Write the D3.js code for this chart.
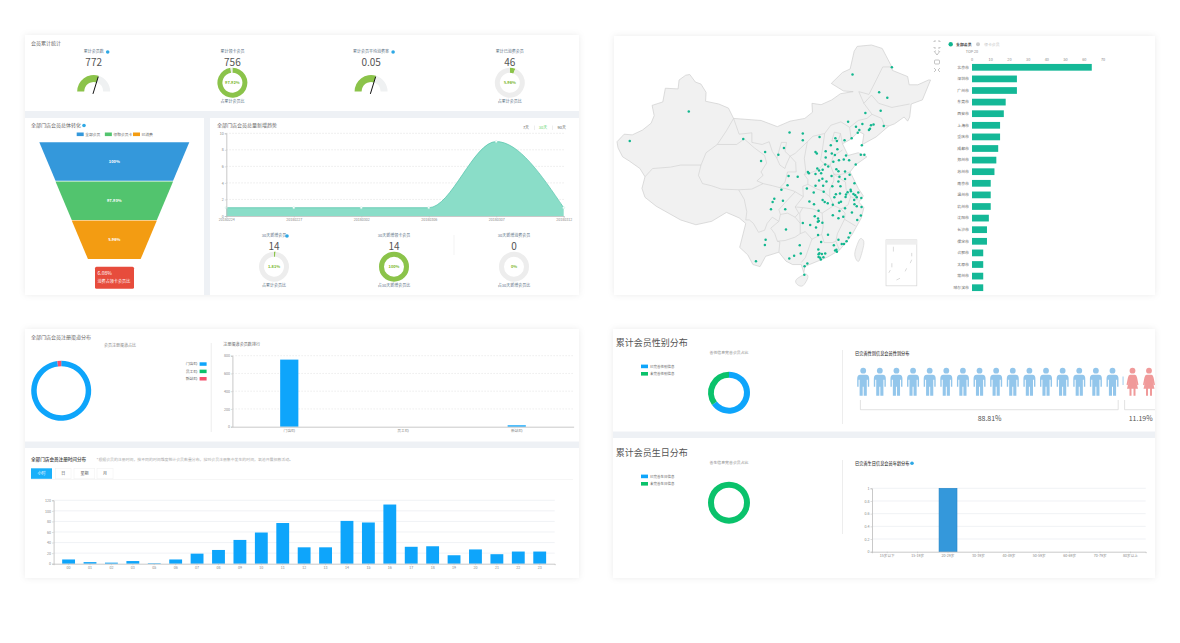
<!DOCTYPE html>
<html>
<head>
<meta charset="utf-8">
<title>会员分析</title>
<script src="https://cdnjs.cloudflare.com/ajax/libs/d3/7.8.5/d3.min.js"></script>
<style>
  html, body { margin: 0; padding: 0; background: #fff; }
  svg { display: block; }
  text { font-family: "Noto Sans CJK SC", "Noto Sans", sans-serif; }
</style>
</head>
<body>
<svg id="chart" width="1180" height="643"></svg>
<script>
// funnel
var funnelStages = ["全部会员", "领取会员卡", "已消费"];
var funnelRates = ["100%", "97.93%", "5.96%"];

// total member growth line
var growthDates = ["20180224", "20180227", "20180302", "20180306", "20180307", "20180312"];
var growthValues = [1, 1, 1, 1, 9, 1];

// top 20 cities
var cityNames = ["北京市", "深圳市", "广州市", "东莞市", "西安市", "上海市", "重庆市", "成都市", "郑州市", "苏州市",
  "南京市", "温州市", "杭州市", "沈阳市", "长沙市", "保定市", "合肥市", "太原市", "常州市", "哈尔滨市"];
var cityValues = [64, 24, 24, 18, 17, 15, 15, 14, 13, 12, 10, 10, 10, 9, 8, 8, 6, 6, 6, 6];

// register channels
var channelNames = ["门店码", "员工码", "新站码"];
var channelValues = [756, 0, 16];

// register hour
var hourLabels = ["00", "01", "02", "03", "05", "06", "07", "08", "09", "10", "11", "12", "13", "14", "15", "16", "17", "18", "19", "20", "21", "22", "23"];
var hourValues = [8, 3, 2, 5, 1, 8, 19, 26, 45, 59, 77, 31, 31, 81, 78, 112, 32, 33, 16, 27, 18, 23, 23];

// gender and birthday
var genderInfoShare = [65, 35];
var genderPeople = [16, 2];
var genderRates = ["88.81%", "11.19%"];
var ageLabels = ["15岁以下", "15-19岁", "20-29岁", "30-39岁", "40-49岁", "50-59岁", "60-69岁", "70-79岁", "80岁以上"];
var ageValues = [0, 0, 1, 0, 0, 0, 0, 0, 0];
var birthdayInfoShare = [0, 100];

// map, lon/lat
var chinaOutline = [[73.5,39.4],[74.9,40.5],[76.5,40.4],[78.5,41.1],[80.2,42.1],[80.8,43.2],[80.4,44.7],[82.5,45.2],[83,47.2],[85.5,47.1],[85.7,48.4],[87,49.1],[87.8,49.2],[88.9,48.1],[90,47.8],[91,46.6],[90.9,45.3],[93.5,44.9],[95.4,44.3],[96.4,42.8],[100,42.6],[101.8,42.5],[105,41.6],[107.5,42.4],[110.4,42.8],[111.9,43.7],[111.8,45],[113.6,44.8],[115.7,45.5],[117.4,46.4],[119.9,46.7],[118,46.8],[115.6,47.9],[117.8,49.5],[119.3,50],[120.1,52.6],[120.7,53.3],[123.5,53.5],[125.6,53],[127.5,50.3],[127.6,49.8],[130.6,48.9],[130.9,47.7],[132.6,47.7],[134.7,48.4],[135.1,48.4],[133.5,45.5],[131.3,44.9],[131,43],[130.6,42.4],[129.9,43],[128,42],[126.9,41.7],[124.4,40.1],[121.7,39],[122,40.5],[121,40.9],[119.5,39.8],[117.8,39.1],[118.9,37.4],[120.9,37.8],[122.6,37.2],[120.3,36],[119.3,35],[120.9,32.6],[121.9,31.5],[121,30.6],[122,29.8],[121.5,28.3],[119.7,25.9],[119,25.2],[117.2,23.6],[114.9,22.6],[113.6,22.2],[111.3,21.5],[110.4,21.2],[110.2,20.3],[109.7,21.5],[108,21.5],[106.7,22],[105.3,23.3],[102.7,22.7],[101.6,21.2],[100.2,21.5],[99.2,22.9],[97.6,24],[98.8,27.5],[97.5,28.3],[95,29.1],[92.1,27.8],[89,27.3],[86,28],[81.2,30],[79,31.3],[78.4,32.6],[79,34.3],[78,35.5],[75.9,36.6],[74.6,37.2],[73.7,38.5]];
var chinaIslands = [
  [[121.5,25.3],[122,24.5],[121,22],[120.2,23],[120.9,24.8]],
  [[108.7,19.3],[110.5,20.1],[111,19.6],[110,18.4],[108.9,18.6]]
];
var provinceBorders = [
  [[79,34.3],[80.5,35.5],[84,35.7],[86,36],[90,36],[91,37.8],[93.2,39],[95,41],[96.4,42.8]],
  [[90,36],[89.5,34.5],[90.3,33.3],[92,33],[94,32.5],[97.4,32.4],[98.5,31],[99,29.2],[98.8,28]],
  [[93.2,39],[97,39],[98.5,39.8],[100.5,38.5],[102.5,37.4],[102.9,36.3],[101.8,35],[102.2,34.5],[101,33.7],[102.2,33.3]],
  [[97.4,32.4],[100,32.5],[102.2,33.3],[104,33],[105.5,32.7],[106.5,33.5],[107,35],[108.7,35],[108.6,36.4],[107.5,37.3]],
  [[96.4,42.8],[97.5,40.5],[100,40.7],[100,39.3],[102,39],[103.4,39.4],[104,38],[104.9,37]],
  [[104.9,37],[105.8,39.3],[106.8,39.3],[106.5,38],[107.5,37.3],[106.7,36],[106.5,35.5],[105.5,36],[104.9,37]],
  [[107.5,37.3],[108.5,37.7],[110.9,39.4],[110.3,37],[110.6,35],[110.3,34.6],[111,33.9],[111,33.2],[110,32.9],[110.1,31.4]],
  [[105.5,32.7],[106.5,32.6],[108.3,32.2],[110.1,31.4]],
  [[105.6,28.8],[105.3,29.5],[106.5,30.5],[108.5,32.1]],
  [[110.1,31.4],[108.5,29.9],[109.2,29],[108.5,28.4],[107,29],[105.6,28.8]],
  [[98.8,28],[99.5,28],[100.3,27.5],[101.3,26.2],[102.5,26.5],[103,27.5],[104,28.4],[105.3,27.8],[105.6,28.8]],
  [[105.3,27.8],[103.7,26.8],[104.5,26],[105,24.9],[106.5,25],[108.5,25.5],[109.5,26],[109.5,27.5],[108.5,28.4]],
  [[105.3,23.3],[105.5,24.8],[105,24.9]],
  [[109.5,26],[110.5,26.3],[111.8,25.2],[111.5,24.6],[110.5,22.5],[109.7,21.8]],
  [[109.5,27.5],[109.4,29],[110,29.8],[112,29.6],[113.8,29],[114,27],[113.7,25.9],[111.8,25.2]],
  [[108.5,29.9],[110,29.8]],
  [[111,33.2],[112.8,32.5],[114,32.2],[115.3,31.4],[116.1,30.1],[113.8,29]],
  [[110.3,34.6],[112.8,35.2],[114.2,36.2],[115.4,36],[116.1,34.7],[116.1,33.7],[115.3,32.5],[115.3,31.4]],
  [[110.9,39.4],[112,40.2],[114.3,40.6],[113.9,38.5],[113.5,36.7],[114.2,36.2]],
  [[114.3,40.6],[115.5,41.8],[117.5,42.3],[119.2,41.5],[120.9,42.5],[122.6,42.8],[123.6,43.4],[122,45],[121,46.7],[123,46.3],[124.5,48.5],[125.7,50.3],[127.5,50.3]],
  [[122,45],[123.5,46.2],[124.9,45],[127.5,44.4],[131,44.9]],
  [[123.6,43.4],[125.5,42.8],[126,41.8],[126.9,41.7]],
  [[119.2,41.5],[119.5,39.8]],
  [[115.4,36],[116,37.3],[117.8,38.2]],
  [[115.7,39.5],[116.2,40.8],[117.4,40.6],[117,39.6],[115.7,39.5]],
  [[117.4,40.6],[117.8,39.1]],
  [[116.1,34.7],[117.2,34.6],[118.5,34.8],[119.3,35]],
  [[116.1,34.7],[117,34.2],[118.4,33.5],[118.5,32.5],[119.4,31.4],[120.9,30.9]],
  [[116.1,30.1],[117.5,29.6],[118.9,30.2],[119.4,31.4]],
  [[117.5,29.6],[118.3,29],[118.2,28.1],[120.4,27.1]],
  [[118.2,28.1],[116.8,26],[116.5,24.9],[115.8,24.7],[114.2,24.7],[113.7,25.9]],
  [[116.5,24.9],[117.2,23.6]]
];
var nineDash = [[127.8,24.1,127.8,23.4],[131.4,23.2,131.4,22.7],[127.5,21.7,127.5,21.1],[131.4,22.2,131.1,21.7],[130.4,20.95,130.1,20.5],[128.4,19.25,129.1,19.5],[126.9,20.3,127.2,20.7]];
var memberCities = [[119.77,49.2],[127.5,50.25],[125,46.6],[126.6,45.8],[125.3,43.9],[122.3,43.6],[118.9,42.3],[121.7,42],[123.4,41.8],[123.2,41.3],[123,41.1],[123.9,41.9],[125.9,41.7],[120.45,41.6],[121.1,41.1],[120.8,40.7],[119.6,39.9],[121.6,38.9],
  [107.4,40.75],[110,40.6],[110,39.6],[113.3,40.1],[116.4,39.9],[116.7,39.5],[118.2,39.6],[115.5,38.9],[116.8,38.3],[114.5,38],[112.5,37.9],[112.75,37.7],[115.7,37.7],[116.3,37.45],[118.5,37.4],[114.5,37.1],[118.05,36.8],[119.1,36.7],[121.4,37.5],[122.1,37.5],[117.1,36.7],[116,36.5],[114.4,36.1],[115,35.8],[120.4,36.1],[112.85,35.5],[111,35],[111.2,34.8],[112.5,34.7],[113.6,34.8],[115.65,34.4],[117.2,34.3],[119.2,34.6],[118.3,33.96],[117,33.6],[113.85,34],[114.65,33.6],[113.2,33.75],[112.5,33],[114,33],[115.8,32.9],[117.4,32.9],[120.15,33.35],[119.4,32.4],[113.2,35.2],[113.9,35.3],[116.6,35.4],[117,35.1],[118.3,35.05],
  [87.6,43.8],[76,39.5],[98.3,39.8],[102.6,37.9],[101.8,36.6],[106.3,38.5],[105.2,37.5],[107.2,34.4],[109,34.3],[107,33.07],[105.8,32.4],[104.4,31.1],[104.07,30.6],[103.75,29.55],[106.1,30.8],[106.55,29.55],[110.8,32.6],[111.3,30.7],[112.2,30.3],[113.9,30.9],[114.3,30.6],[114.9,30.45],[114.1,32.1],[112.15,32],[116.5,31.75],[117.3,31.85],[118.5,31.7],[118.4,31.35],[118.8,32.05],[119.95,31.8],[120.3,31.6],[120.6,31.3],[119.45,32.2],[120.9,32],[121.5,31.2],[120.1,30.9],[120.15,30.3],[120.6,30],[121.55,29.9],[119.65,29.1],[121.4,28.65],[120.7,28],[117.5,30.65],[117.2,29.3],[115.9,28.7],[117,28.25],[117.95,28.45],[113.85,27.6],[113,28.2],[113.15,27.85],[112.95,27.75],[113.1,29.35],[112.35,28.55],[110,27.55],[111.45,27.25],[112.6,26.9],[113,25.8],[114.95,25.85],[106.7,26.6],[102.7,25.1],[102.55,24.35],[100.8,22],[109.4,24.3],[109.6,23.1],[108.3,22.8],[107.35,22.4],[110.35,21.27],[110.9,21.65],[110.3,20],[113.6,24.8],[113.05,23.7],[113.1,23],[113.26,23.13],[113.75,23.05],[114.4,23.1],[113.4,22.5],[113.55,22.25],[113.1,22.6],[114.05,22.55],[116.1,24.3],[116.7,23.35],[116.35,23.55],[116.6,23.65],[117,25.1],[117.65,24.5],[118.1,24.5],[118.6,24.9],[119.3,26.1],[119,25.45],[116.2,31.3],[115.9,30.2],[117.1,30.5],[118.3,29.7]];

var svg = d3.select("#chart");
var GRAY_GAP = "#eef1f5", TEXT = "#666", MUTED = "#888", BLUE = "#0ea5fb", GREEN = "#0ac26b", RED = "#f4516c", TEAL = "#14b897", LEAF = "#8bc34a", TRACK = "#ededed";

var defs = svg.append("defs");
defs.append("filter").attr("id", "soft").attr("x", "-3%").attr("y", "-3%").attr("width", "106%").attr("height", "106%")
  .append("feDropShadow").attr("dx", 0).attr("dy", 0).attr("stdDeviation", 3).attr("flood-color", "#000").attr("flood-opacity", 0.08);

function label(g, x, y, str, size, color, anchor, weight) {
  return g.append("text").attr("x", x).attr("y", y).attr("dy", "0.35em")
    .attr("font-size", size).attr("fill", color || TEXT)
    .attr("text-anchor", anchor || "start").attr("font-weight", weight || 400).text(str);
}

function helpIcon(g, x, y) {
  g.append("circle").attr("cx", x).attr("cy", y).attr("r", 1.8).attr("fill", "#2ea8e5");
}

function styleAxis(g, fontSize) {
  g.select(".domain").attr("stroke", "#bbb").attr("stroke-width", 0.8);
  g.selectAll(".tick line").attr("stroke", "#bbb").attr("stroke-width", 0.5);
  g.selectAll(".tick text").attr("font-size", fontSize).attr("fill", MUTED);
}

function grid(g, scale, ticks, x1, x2, color, dash) {
  g.append("g").selectAll("line").data(ticks).join("line")
    .attr("x1", x1).attr("x2", x2)
    .attr("y1", function (d) { return scale(d); })
    .attr("y2", function (d) { return scale(d); })
    .attr("stroke", color).attr("stroke-width", 0.7)
    .attr("stroke-dasharray", dash || null);
}

function ring(g, cx, cy, r0, r1, values, colors) {
  var pie = d3.pie().sort(null)(values);
  var arc = d3.arc().innerRadius(r0).outerRadius(r1);
  g.append("g").attr("transform", "translate(" + cx + "," + cy + ")")
    .selectAll("path").data(pie).join("path")
    .attr("d", arc)
    .attr("fill", function (d, i) { return colors[i]; });
}

// cards
[[25, 35, 554, 260], [25, 329, 554, 249], [613, 329, 542, 249], [614, 36, 541, 259]].forEach(function (c) {
  svg.append("rect").attr("x", c[0]).attr("y", c[1]).attr("width", c[2]).attr("height", c[3])
    .attr("fill", GRAY_GAP).attr("filter", "url(#soft)");
});
[[25, 35, 554, 76], [25, 118, 179, 177], [210, 118, 369, 177], [614, 36, 541, 259],
 [25, 329, 554, 112.5], [25, 448, 554, 130], [613, 329, 542, 102.5], [613, 438, 542, 140]].forEach(function (c) {
  svg.append("rect").attr("x", c[0]).attr("y", c[1]).attr("width", c[2]).attr("height", c[3]).attr("fill", "#fff");
});

// ---- member totals
var totals = svg.append("g");
label(totals, 31, 43, "会员累计统计", 5, TEXT);

function gauge(cx, title, value, share) {
  label(totals, cx, 52, title, 4, "#5a7184", "middle");
  helpIcon(totals, cx + title.length * 2 + 4, 52);
  label(totals, cx, 62, value, 10, "#555", "middle");
  var g = totals.append("g").attr("transform", "translate(" + cx + ",91.5)");
  var angle = d3.scaleLinear().domain([0, 1]).range([-Math.PI / 2, Math.PI / 2]);
  var arc = d3.arc().innerRadius(9.5).outerRadius(16.5);
  g.append("path").attr("d", arc({ startAngle: angle(share), endAngle: angle(1) })).attr("fill", "#eff1f2");
  g.append("path").attr("d", arc({ startAngle: angle(0), endAngle: angle(share) })).attr("fill", LEAF);
  var a = angle(share);
  g.append("line").attr("x1", -Math.sin(a) * 2.5).attr("y1", Math.cos(a) * 2.5)
    .attr("x2", Math.sin(a) * 15.5).attr("y2", -Math.cos(a) * 15.5)
    .attr("stroke", "#111").attr("stroke-width", 1);
}

function donutStat(g, cx, cy, title, value, rate, values, note, titleY, valueY, noteY) {
  label(g, cx, titleY, title, 4, "#5a7184", "middle");
  label(g, cx, valueY, value, 10, "#555", "middle");
  ring(g, cx, cy, 10, 15, values, [LEAF, TRACK]);
  label(g, cx, cy, rate, 4, "#7cb82f", "middle", 700);
  label(g, cx, noteY, note, 4, "#5a7184", "middle");
}

gauge(93.7, "累计会员数", "772", 0.595);
donutStat(totals, 232.4, 82.7, "累计领卡会员", "756", "97.92%", [756, 16], "占累计会员比", 52, 62, 102);
gauge(371.1, "累计会员平均消费率", "0.05", 0.595);
donutStat(totals, 509.8, 82.7, "累计已消费会员", "46", "5.96%", [46, 726], "占累计会员比", 52, 62, 102);

// ---- funnel
var funnel = svg.append("g");
label(funnel, 31, 125.5, "全部门店会员总体转化", 5, TEXT);
helpIcon(funnel, 84, 125.5);
var funnelColors = ["#3498db", "#52c46e", "#f39c12"];
var funnelY = d3.scaleBand().domain(funnelStages).range([142.3, 259.7]);
var funnelWidth = d3.scaleLinear().domain([0, 3]).range([150, 52.7]);
var funnelCx = 114.3;
var legendX = d3.scalePoint().domain(funnelStages).range([76.7, 133]);
funnelStages.forEach(function (name, i) {
  var top = funnelY(name), bottom = top + funnelY.bandwidth() - 0.6;
  var w0 = funnelWidth(i) / 2, w1 = funnelWidth(i + 1) / 2;
  funnel.append("path")
    .attr("d", d3.line()([[funnelCx - w0, top], [funnelCx + w0, top], [funnelCx + w1, bottom], [funnelCx - w1, bottom]]) + "Z")
    .attr("fill", funnelColors[i]);
  label(funnel, funnelCx, (top + bottom) / 2, funnelRates[i], 4, "#fff", "middle", 700);
  funnel.append("rect").attr("x", legendX(name)).attr("y", 132.5).attr("width", 7).attr("height", 3.6).attr("fill", funnelColors[i]);
  label(funnel, legendX(name) + 8.5, 134.3, name, 3.8, TEXT);
});
funnel.append("rect").attr("x", 95).attr("y", 266.7).attr("width", 39).attr("height", 22).attr("rx", 1.5).attr("fill", "#e74c3c");
label(funnel, 97.5, 272.8, "6.08%", 5, "#fff");
label(funnel, 97.5, 282, "消费占领卡会员比", 4.1, "#fff");

// ---- growth line
var growth = svg.append("g");
label(growth, 217, 125.7, "全部门店会员总量新增趋势", 5, TEXT);
[["7天", 526, "#666"], ["30天", 543, "#5fd35f"], ["90天", 561.7, "#666"]].forEach(function (d) {
  label(growth, d[1], 127.7, d[0], 4, d[2], "middle");
});
growth.selectAll(".sep").data([534.5, 552.5]).join("line").attr("class", "sep")
  .attr("x1", function (d) { return d; }).attr("x2", function (d) { return d; })
  .attr("y1", 125.5).attr("y2", 130).attr("stroke", "#ddd").attr("stroke-width", 0.5);

var growthX = d3.scalePoint().domain(growthDates).range([226.3, 563.7]);
var growthY = d3.scaleLinear().domain([0, 10]).range([216, 133.3]);
grid(growth, growthY, [2, 4, 6, 8, 10], 226.3, 565, "#e3e3e3", "1.5,1.5");
var growthArea = d3.area().curve(d3.curveMonotoneX)
  .x(function (d, i) { return growthX(growthDates[i]); })
  .y0(growthY(0)).y1(function (d) { return growthY(d); });
var growthLine = d3.line().curve(d3.curveMonotoneX)
  .x(function (d, i) { return growthX(growthDates[i]); })
  .y(function (d) { return growthY(d); });
growth.append("path").attr("d", growthArea(growthValues)).attr("fill", "#8addc8");
growth.append("path").attr("d", growthLine(growthValues)).attr("fill", "none").attr("stroke", "#5cc7ae").attr("stroke-width", 0.8);
growth.selectAll(".pt").data(growthValues).join("circle").attr("class", "pt")
  .attr("cx", function (d, i) { return growthX(growthDates[i]); })
  .attr("cy", function (d) { return growthY(d); })
  .attr("r", 1.1).attr("fill", "#fff").attr("stroke", "#b5ebdc").attr("stroke-width", 0.4);
var gx = growth.append("g").attr("transform", "translate(0,216)").call(d3.axisBottom(growthX).tickSize(1.5).tickPadding(1));
styleAxis(gx, 3.6);
var gy = growth.append("g").attr("transform", "translate(226.3,0)").call(d3.axisLeft(growthY).tickValues([0, 2, 4, 6, 8, 10]).tickSize(1.5).tickPadding(1));
styleAxis(gy, 3.6);

donutStat(growth, 274, 266.7, "30天新增会员", "14", "1.81%", [14, 758], "占累计会员比", 236, 246, 286);
helpIcon(growth, 287, 236);
donutStat(growth, 394, 266.7, "30天新增领卡会员", "14", "100%", [14, 0], "占30天新增会员比", 236, 246, 286);
donutStat(growth, 514, 266.7, "30天新增消费会员", "0", "0%", [0, 14], "占30天新增会员比", 236, 246, 286);
growth.append("line").attr("x1", 454).attr("x2", 454).attr("y1", 235).attr("y2", 255).attr("stroke", "#eee").attr("stroke-width", 0.7);

// ---- map
var mapG = svg.append("g");
var lonScale = d3.scaleLinear().domain([73.5, 135.05]).range([617, 930.3]);
var latScale = d3.scaleLinear().domain([53.5, 18.2]).range([45, 287.2]);
var mapLine = d3.line().x(function (d) { return lonScale(d[0]); }).y(function (d) { return latScale(d[1]); });
mapG.append("path").attr("d", mapLine(chinaOutline) + "Z").attr("fill", "#f1f1f1").attr("stroke", "#cfcfcf").attr("stroke-width", 0.7);
chinaIslands.forEach(function (isl) {
  mapG.append("path").attr("d", d3.line().curve(d3.curveCardinalClosed)
    .x(function (d) { return lonScale(d[0]); }).y(function (d) { return latScale(d[1]); })(isl))
    .attr("fill", "#f1f1f1").attr("stroke", "#cfcfcf").attr("stroke-width", 0.6);
});
mapG.append("g").selectAll("path").data(provinceBorders).join("path")
  .attr("d", mapLine).attr("fill", "none").attr("stroke", "#cfcfcf").attr("stroke-width", 0.6);
// south sea inset
mapG.append("rect").attr("x", lonScale(126.35)).attr("y", latScale(25.1))
  .attr("width", lonScale(132.4) - lonScale(126.35)).attr("height", latScale(18.4) - latScale(25.1))
  .attr("fill", "#fff").attr("stroke", "#d5d5d5").attr("stroke-width", 0.7);
mapG.append("rect").attr("x", lonScale(126.35)).attr("y", latScale(25.1))
  .attr("width", lonScale(132.4) - lonScale(126.35)).attr("height", latScale(24.4) - latScale(25.1)).attr("fill", "#efefef");
mapG.append("g").selectAll("line").data(nineDash).join("line")
  .attr("x1", function (d) { return lonScale(d[0]); }).attr("y1", function (d) { return latScale(d[1]); })
  .attr("x2", function (d) { return lonScale(d[2]); }).attr("y2", function (d) { return latScale(d[3]); })
  .attr("stroke", "#ccc").attr("stroke-width", 0.7);
mapG.append("g").selectAll("circle").data(memberCities).join("circle")
  .attr("cx", function (d) { return lonScale(d[0]); }).attr("cy", function (d) { return latScale(d[1]); })
  .attr("r", 1.25).attr("fill", "#12b78f");

// ---- top cities
var top20 = svg.append("g");
var cityX = d3.scaleLinear().domain([0, 70]).range([972, 1103]);
var cityY = d3.scaleBand().domain(cityNames).range([61.5, 293.5]).paddingInner(0.42).paddingOuter(0.21);
top20.append("circle").attr("cx", 950.7).attr("cy", 44.3).attr("r", 2.2).attr("fill", "#10b58f");
label(top20, 956, 44.3, "全部会员", 3.9, "#444", "start", 700);
top20.append("circle").attr("cx", 978).attr("cy", 44.3).attr("r", 2).attr("fill", "#ccc");
label(top20, 984, 44.3, "领卡会员", 3.9, "#bbb");
label(top20, 972, 51.3, "TOP 20", 3.8, MUTED, "middle");
top20.append("g").selectAll("text").data(cityX.ticks(7)).join("text")
  .attr("x", function (d) { return cityX(d); }).attr("y", 59.3).attr("dy", "0.35em")
  .attr("text-anchor", "middle").attr("font-size", 3.8).attr("fill", MUTED).text(function (d) { return d; });
top20.append("g").selectAll("rect").data(cityValues).join("rect")
  .attr("x", cityX(0))
  .attr("y", function (d, i) { return cityY(cityNames[i]); })
  .attr("width", function (d) { return cityX(d) - cityX(0); })
  .attr("height", cityY.bandwidth())
  .attr("fill", TEAL);
top20.append("g").selectAll("text").data(cityNames).join("text")
  .attr("x", 969).attr("y", function (d) { return cityY(d) + cityY.bandwidth() / 2; }).attr("dy", "0.35em")
  .attr("text-anchor", "end").attr("font-size", 3.9).attr("fill", TEXT).text(function (d) { return d; });
// toolbox
var tools = top20.append("g").attr("fill", "none").attr("stroke", "#888").attr("stroke-width", 0.5);
tools.append("path").attr("d", "M934,42V41H936M938,41H940V42M934,47V48H936M938,48H940V47");
tools.append("path").attr("d", "M934,51L937,55L940,51M935,51H936M938,51H939");
tools.append("rect").attr("x", 934.5).attr("y", 60).attr("width", 5).attr("height", 4).attr("rx", 1);
tools.append("path").attr("d", "M934,68L936,70L934,72M940,68L938,70L940,72");

// ---- channels
var channels = svg.append("g");
label(channels, 31, 337.3, "全部门店会员注册渠道分布", 5, TEXT);
label(channels, 120, 345.5, "会员注册渠道占比", 4, MUTED, "middle");
var channelColors = [BLUE, GREEN, RED];
ring(channels, 61.2, 390.7, 24.5, 30, [channelValues[0], channelValues[1], channelValues[2]], channelColors);
var legendY = d3.scalePoint().domain(channelNames).range([364, 378.7]);
channelNames.forEach(function (name, i) {
  channels.append("rect").attr("x", 199.6).attr("y", legendY(name) - 1.7).attr("width", 7).attr("height", 3.5).attr("fill", channelColors[i]);
  label(channels, 197.4, legendY(name), name, 3.9, TEXT, "end");
});
channels.append("line").attr("x1", 211.2).attr("x2", 211.2).attr("y1", 343).attr("y2", 432).attr("stroke", "#e5e5e5").attr("stroke-width", 0.7);
label(channels, 223.3, 344.8, "注册渠道会员数排行", 4.1, TEXT);
var chX = d3.scaleBand().domain(channelNames).range([232.4, 573.6]).paddingInner(0.84).paddingOuter(0.42);
var chY = d3.scaleLinear().domain([0, 800]).range([426.7, 355.7]);
grid(channels, chY, [200, 400, 600, 800], 232.4, 573.6, "#e5e5e5", "1.5,1.5");
channels.append("g").selectAll("rect").data(channelValues).join("rect")
  .attr("x", function (d, i) { return chX(channelNames[i]); })
  .attr("y", function (d) { return chY(d); })
  .attr("width", chX.bandwidth())
  .attr("height", function (d) { return chY(0) - chY(d); })
  .attr("fill", BLUE);
styleAxis(channels.append("g").attr("transform", "translate(0,426.7)").call(d3.axisBottom(chX).tickSize(0).tickPadding(2.5)), 3.8);
styleAxis(channels.append("g").attr("transform", "translate(232.4,0)").call(d3.axisLeft(chY).tickValues([0, 200, 400, 600, 800]).tickSize(1.5).tickPadding(1)), 3.6);

// ---- register time
var hours = svg.append("g");
label(hours, 31, 459.8, "全部门店会员注册时间分布", 4.6, "#444", "start", 500);
label(hours, 96.6, 460, "*根据会员的注册时间，按不同的时间维度统计会员数量分布，找到会员注册集中发生的时间，氧池开展招募活动。", 3.9, "#aaa");
[["小时", 31, 21], ["日", 55.4, 15.6], ["星期", 74, 20.8], ["月", 97, 16]].forEach(function (t, i) {
  hours.append("rect").attr("x", t[1]).attr("y", 468.3).attr("width", t[2]).attr("height", 10.5)
    .attr("fill", i === 0 ? "#1ab0fa" : "#fff").attr("stroke", i === 0 ? "none" : "#f0f0f0").attr("stroke-width", 0.5);
  label(hours, t[1] + t[2] / 2, 473.6, t[0], 4, i === 0 ? "#fff" : "#555", "middle");
});
hours.append("line").attr("x1", 31).attr("x2", 573).attr("y1", 479.5).attr("y2", 479.5).attr("stroke", "#f0f0f0").attr("stroke-width", 0.6);
var hX = d3.scaleBand().domain(hourLabels).range([53.6, 554.7]).padding(0.4);
var hY = d3.scaleLinear().domain([0, 120]).range([563.7, 500.3]);
var hTicks = [20, 40, 60, 80, 100, 120];
grid(hours, hY, hTicks, 53.6, 554.7, "#e9edf1");
hours.append("g").selectAll("rect").data(hourValues).join("rect")
  .attr("x", function (d, i) { return hX(hourLabels[i]); })
  .attr("y", function (d) { return hY(d); })
  .attr("width", hX.bandwidth())
  .attr("height", function (d) { return hY(0) - hY(d); })
  .attr("fill", BLUE);
styleAxis(hours.append("g").attr("transform", "translate(0,563.7)").call(d3.axisBottom(hX).tickSize(1.5).tickPadding(1.5)), 3.6);
styleAxis(hours.append("g").attr("transform", "translate(53.6,0)").call(d3.axisLeft(hY).tickValues([0].concat(hTicks)).tickSize(1.5).tickPadding(1)), 3.6);

// ---- gender
function infoBlock(g, title, share, legendA, legendB, top) {
  label(g, 615.7, top + 14, title, 9, "#555");
  label(g, 729, top + 24, legendA.slice(2, 4) + "信息完善会员占比", 3.9, MUTED, "middle");
  label(g, 650, top + 37.4, legendA, 3.5, TEXT);
  label(g, 650, top + 44.8, legendB, 3.5, TEXT);
  g.append("rect").attr("x", 641).attr("y", top + 35.6).attr("width", 7).attr("height", 3.6).attr("fill", BLUE);
  g.append("rect").attr("x", 641).attr("y", top + 43).attr("width", 7).attr("height", 3.6).attr("fill", GREEN);
  ring(g, 729, top + 63.7, 15, 21, share, [BLUE, GREEN]);
  g.append("line").attr("x1", 842.5).attr("x2", 842.5).attr("y1", top + 21).attr("y2", top + 95).attr("stroke", "#e5e5e5").attr("stroke-width", 0.7);
}

var gender = svg.append("g");
infoBlock(gender, "累计会员性别分布", genderInfoShare, "已完善性别信息", "未完善性别信息", 329);
label(gender, 855, 353.2, "已完善性别信息会员性别分布", 4.2, "#333", "start", 500);
var maleShape = "M-6,-3Q-6,-7-3,-7L3,-7Q6,-7 6,-3L6,5L4.6,5L4.6,-2L3.6,-2L3.6,14L0.5,14L0.5,5L-0.5,5L-0.5,14L-3.6,14L-3.6,-2L-4.6,-2L-4.6,5L-6,5Z";
var femaleShape = "M-2.5,-7L2.5,-7Q4,-7 4.6,-4L6,3L4.8,3.5L3.5,-1L5.5,7L3,7L3,14L1,14L1,7L-1,7L-1,14L-3,14L-3,7L-5.5,7L-3.5,-1L-4.8,3.5L-6,3L-4.6,-4Q-4,-7-2.5,-7Z";
var peopleX = d3.scaleLinear().domain([0, 15]).range([863.2, 1112.5]);
var femaleX = d3.scaleLinear().domain([0, 1]).range([1132.5, 1149]);
function person(x, shape, color) {
  var p = gender.append("g").attr("transform", "translate(" + x + ",381.7)").attr("fill", color);
  p.append("circle").attr("cy", -11).attr("r", 2.9);
  p.append("path").attr("d", shape);
}
d3.range(genderPeople[0]).forEach(function (i) { person(peopleX(i), maleShape, "#93c6eb"); });
d3.range(genderPeople[1]).forEach(function (i) { person(femaleX(i), femaleShape, "#f09a9a"); });
gender.append("rect").attr("x", 1122.6).attr("y", 376.5).attr("width", 0.9).attr("height", 8.5).attr("fill", "#93c6eb");
gender.append("path").attr("d", "M860.4,400V409.7H1118.2V400M1124.6,400V409.7H1155").attr("fill", "none").attr("stroke", "#d5d5d5").attr("stroke-width", 0.7);
label(gender, 989.6, 419, genderRates[0], 7, "#555", "middle");
label(gender, 1140.7, 419, genderRates[1], 7, "#555", "middle");

// ---- birthday
var birthday = svg.append("g");
infoBlock(birthday, "累计会员生日分布", birthdayInfoShare, "已完善生日信息", "未完善生日信息", 439);
label(birthday, 855, 463.2, "已完善生日信息会员年龄分布", 4.2, "#333", "start", 500);
helpIcon(birthday, 912, 463.2);
var ageX = d3.scaleBand().domain(ageLabels).range([872, 1145.7]).paddingInner(0.41).paddingOuter(0.205);
var ageY = d3.scaleLinear().domain([0, 1]).range([551.7, 488.3]);
var ageTicks = [0.2, 0.4, 0.6, 0.8, 1];
grid(birthday, ageY, ageTicks, 872, 1145.7, "#e9edf1");
birthday.append("g").selectAll("rect").data(ageValues).join("rect")
  .attr("x", function (d, i) { return ageX(ageLabels[i]); })
  .attr("y", function (d) { return ageY(d); })
  .attr("width", ageX.bandwidth())
  .attr("height", function (d) { return ageY(0) - ageY(d); })
  .attr("fill", "#3498db").attr("stroke", "#2584c6").attr("stroke-width", function (d) { return d ? 0.6 : 0; });
styleAxis(birthday.append("g").attr("transform", "translate(0,551.7)").call(d3.axisBottom(ageX).tickSize(1.5).tickPadding(1.5)), 3.6);
styleAxis(birthday.append("g").attr("transform", "translate(872,0)").call(d3.axisLeft(ageY).tickValues([0].concat(ageTicks)).tickFormat(d3.format("~g")).tickSize(1.5).tickPadding(1)), 3.6);
</script>
</body>
</html>
